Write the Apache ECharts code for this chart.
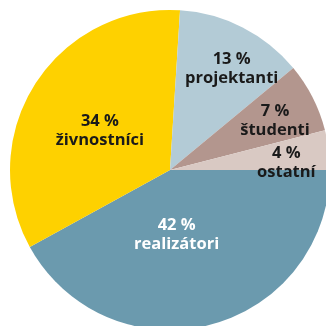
<!DOCTYPE html>
<html>
<head>
<meta charset="utf-8">
<script src="https://cdn.jsdelivr.net/npm/echarts@6/dist/echarts.min.js"></script>
<style>
  html, body { margin: 0; padding: 0; background: #ffffff; }
  #chart { width: 326px; height: 326px; }
</style>
</head>
<body>
<div id="chart"></div>
<script>
// Shares of respondents by group (percent)
const categories = ['realizátori', 'živnostníci', 'projektanti', 'študenti', 'ostatní'];
const values = [42, 34, 13, 7, 4];

// Slice colours and label appearance, per category
const sliceColors = ['#6b9aae', '#fed100', '#b3cbd6', '#b3968e', '#d9c9c3'];
const labelColors = ['#ffffff', '#1a1a1a', '#1a1a1a', '#1a1a1a', '#1a1a1a'];
// Nudges from the default inside-label anchor
const labelOffsets = [[-14, -16], [0, 5], [24, -27], [31, -12], [34, 3]];

const chart = echarts.init(document.getElementById('chart'), null, { renderer: 'canvas' });

chart.setOption({
  animation: false,
  series: [{
    type: 'pie',
    center: [170, 170],
    radius: [0, 160],
    startAngle: 0,
    clockwise: true,
    avoidLabelOverlap: false,
    silent: true,
    itemStyle: { borderWidth: 0 },
    label: {
      show: true,
      position: 'inside',
      fontFamily: 'Open Sans',
      fontWeight: 'bold',
      fontSize: 16.5,
      lineHeight: 19,
      align: 'center',
      formatter: p => p.value + ' %\n' + p.name
    },
    labelLine: { show: false },
    data: categories.map((name, i) => ({
      name: name,
      value: values[i],
      itemStyle: { color: sliceColors[i] },
      label: { color: labelColors[i], offset: labelOffsets[i] }
    }))
  }]
});
</script>
</body>
</html>
